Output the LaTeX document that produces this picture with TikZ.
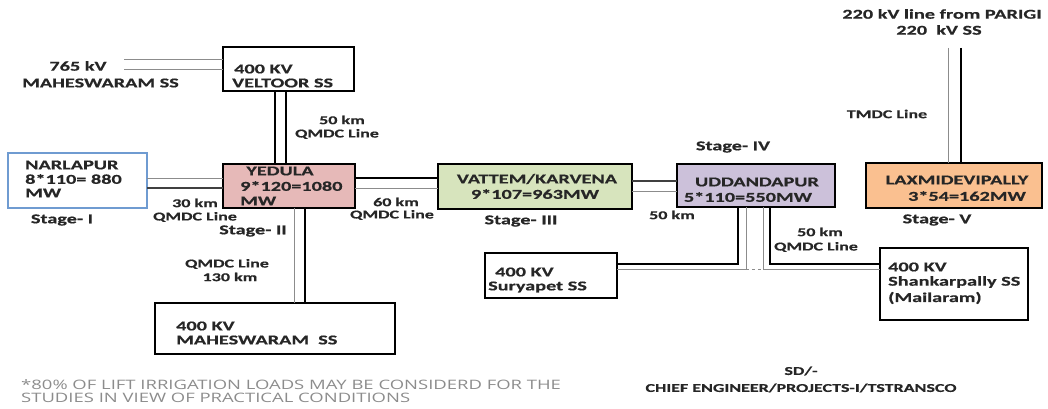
\documentclass[tikz,border=0pt]{standalone}
\usepackage{fontspec}
\newfontfamily\lbl{Carlito}[FakeStretch=1.5,BoldFeatures={FakeBold=0.6}]
\newfontfamily\notefont{Open Sans}[FakeStretch=1.42]
\definecolor{yedfill}{HTML}{E6B9B8}
\definecolor{vatfill}{HTML}{D7E4BD}
\definecolor{uddfill}{HTML}{CCC1DA}
\definecolor{laxfill}{HTML}{FAC090}
\definecolor{narblue}{HTML}{6F9BD1}
\definecolor{notegrey}{HTML}{8C8C8C}
\begin{document}
\begin{tikzpicture}[x=1pt,y=-1pt,
  box/.style={draw=black,line width=1.7pt,rectangle,anchor=north west,inner sep=0pt,outer sep=0pt},
  big/.style={font=\lbl\bfseries\fontsize{13.5}{15}\selectfont,inner sep=0pt,text=black!85},
  small/.style={font=\lbl\bfseries\fontsize{12}{13}\selectfont,inner sep=0pt,text=black!85},
  note/.style={font=\notefont\fontsize{13}{14}\selectfont,inner sep=0pt,text=notegrey,anchor=west},
  bline/.style={line width=1.5pt,black},
  gline/.style={line width=1pt,black!45},
  dline/.style={line width=1.2pt,black!75}]
\useasboundingbox (0,0) rectangle (1048,409);
% boxes
\node (vel) [box,minimum width=131pt,minimum height=44pt] at (223,47) {};
\node (nar) [box,draw=narblue,line width=1.1pt,minimum width=139pt,minimum height=55pt] at (8,153) {};
\node (yed) [box,fill=yedfill,minimum width=132pt,minimum height=44pt] at (223,164) {};
\node (vat) [box,fill=vatfill,minimum width=194pt,minimum height=45pt] at (438,164) {};
\node (udd) [box,fill=uddfill,minimum width=158pt,minimum height=43pt] at (677,164) {};
\node (lax) [box,fill=laxfill,minimum width=176pt,minimum height=45pt] at (866,163) {};
\node (mah) [box,minimum width=240pt,minimum height=51pt] at (155,303) {};
\node (sur) [box,minimum width=132pt,minimum height=45pt] at (485,253) {};
\node (sha) [box,minimum width=148pt,minimum height=72pt] at (880,248) {};
% free ends
\coordinate (mah765) at (124,65);
\coordinate (parigi) at (954,48);
% connectors
\draw[gline] (mah765 |- 0,60) -- (vel.west |- 0,60);
\draw[gline] (mah765 |- 0,70) -- (vel.west |- 0,70);
\draw[bline] (vel.south -| 275,0) -- (yed.north -| 275,0);
\draw[bline] (vel.south -| 286,0) -- (yed.north -| 286,0);
\draw[gline] (nar.east |- 0,178) -- (yed.west |- 0,178);
\draw[dline] (nar.east |- 0,188) -- (yed.west |- 0,188);
\draw[bline] (yed.east |- 0,178) -- (vat.west |- 0,178);
\draw[gline] (yed.east |- 0,188) -- (vat.west |- 0,188);
\draw[gline] (yed.south -| 294,0) -- (mah.north -| 294,0);
\draw[bline] (yed.south -| 305,0) -- (mah.north -| 305,0);
\draw[dline] (vat.east |- 0,181) -- (udd.west |- 0,181);
\draw[gline] (vat.east |- 0,191) -- (udd.west |- 0,191);
\draw[bline] (udd.south -| 738,0) |- (sur.east |- 0,264);
\draw[gline] (udd.south -| 746,0) -- (746,269) -- (sur.east |- 0,269);
\draw[bline] (udd.south -| 770,0) |- (sha.west |- 0,264);
\draw[gline] (udd.south -| 763,0) -- (763,269) -- (sha.west |- 0,269);
\draw[gline,dashed] (746,269) -- (763,269);
\draw[gline] (parigi -| 948,0) -- (lax.north -| 948,0);
\draw[bline] (parigi -| 961,0) -- (lax.north -| 961,0);
% texts
\node (t765) [big] at (78,66) {765 kV};
\node (tmah765) [big,anchor=west] at (22,83) {MAHESWARAM SS};
\node (tvel1) [big,anchor=west] at (234,69) {400 KV};
\node (tvel2) [big,anchor=west] at (232,83) {VELTOOR SS};
\node (tq1a) [small] at (342,120) {50 km};
\node (tq1b) [small] at (337,134) {QMDC Line};
\node (tnar1) [big,anchor=west] at (25,165) {NARLAPUR};
\node (tnar2) [big,anchor=west] at (25,179) {8*110= 880};
\node (tnar3) [big,anchor=west] at (25,193) {MW};
\node (ts1) [big] at (62,220) {Stage- I};
\node (tyed1) [big] at (280,171) {YEDULA};
\node (tyed2) [big,anchor=west] at (240,186) {9*120=1080};
\node (tyed3) [big,anchor=west] at (240,201) {MW};
\node (tq2a) [small] at (195,203) {30 km};
\node (tq2b) [small] at (195,217) {QMDC Line};
\node (ts2) [big] at (253,231) {Stage- II};
\node (tq3a) [small] at (396,202) {60 km};
\node (tq3b) [small] at (392,215) {QMDC Line};
\node (tq4a) [small] at (227,264) {QMDC Line};
\node (tq4b) [small] at (230,277) {130 km};
\node (tmah1) [big,anchor=west] at (176,326) {400 KV};
\node (tmah2) [big,anchor=west] at (176,340) {MAHESWARAM~~SS};
\node (tvat1) [big] at (537,179) {VATTEM/KARVENA};
\node (tvat2) [big] at (535,194) {9*107=963MW};
\node (ts3) [big] at (521,221) {Stage- III};
\node (tq5) [small] at (672,215) {50 km};
\node (ts4) [big] at (733,147) {Stage- IV};
\node (tudd1) [big] at (757,182) {UDDANDAPUR};
\node (tudd2) [big] at (748,197) {5*110=550MW};
\node (tq6a) [small] at (820,232) {50 km};
\node (tq6b) [small] at (816,247) {QMDC Line};
\node (tsur1) [big,anchor=west] at (495,272) {400 KV};
\node (tsur2) [big,anchor=west] at (488,287) {Suryapet SS};
\node (tsha1) [big,anchor=west] at (888,267) {400 KV};
\node (tsha2) [big,anchor=west] at (888,282) {Shankarpally SS};
\node (tsha3) [big,anchor=west] at (888,298) {(Mailaram)};
\node (tlax1) [big] at (957,180) {LAXMIDEVIPALLY};
\node (tlax2) [big] at (967,196) {3*54=162MW};
\node (ts5) [big] at (937,220) {Stage- V};
\node (ttmdc) [small] at (887,114) {TMDC Line};
\node (tpar1) [big] at (942,14) {220 kV line from PARIGI};
\node (tpar2) [big] at (939,30) {220~~kV SS};
\node (tnote1) [note] at (21,385) {*80\% OF LIFT IRRIGATION LOADS MAY BE CONSIDERD FOR THE};
\node (tnote2) [note] at (21,398) {STUDIES IN VIEW OF PRACTICAL CONDITIONS};
\node (tsd) [small] at (801,371) {SD/-};
\node (tce) [small] at (801,388) {CHIEF ENGINEER/PROJECTS-I/TSTRANSCO};
\end{tikzpicture}
\end{document}
